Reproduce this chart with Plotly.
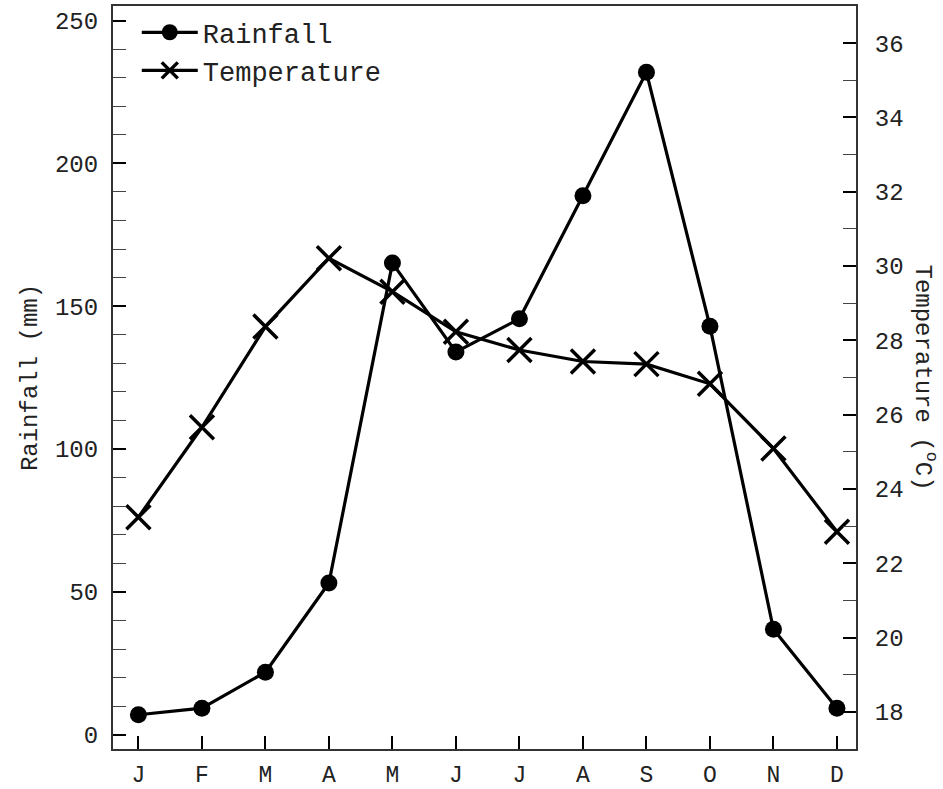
import plotly.graph_objects as go

# Monthly climate data
months = ["J", "F", "M", "A", "M", "J", "J", "A", "S", "O", "N", "D"]
rainfall_mm = [7.0, 9.3, 21.9, 53.1, 165.1, 134.0, 145.6, 188.7, 231.9, 143.0, 36.9, 9.3]
temperature_c = [23.24, 25.66, 28.37, 30.21, 29.31, 28.23, 27.74, 27.43, 27.36, 26.83, 25.09, 22.85]

x_idx = list(range(len(months)))
FONT = "Courier New, Liberation Mono, monospace"
TXT = "#222"

fig = go.Figure()

fig.add_trace(go.Scatter(
    x=x_idx, y=rainfall_mm, name="Rainfall", yaxis="y",
    mode="lines+markers",
    line=dict(color="black", width=3.2),
    marker=dict(symbol="circle", size=17, color="black"),
))

fig.add_trace(go.Scatter(
    x=x_idx, y=temperature_c, name="Temperature", yaxis="y2",
    mode="lines+markers",
    line=dict(color="black", width=3.2),
    marker=dict(symbol="x-thin-open", size=24, color="black",
                line=dict(color="black", width=3.5)),
))

fig.update_layout(
    width=943, height=789,
    margin=dict(l=113, r=87, t=6, b=40, pad=0),
    paper_bgcolor="white", plot_bgcolor="white",
    font=dict(family=FONT, size=24, color=TXT),
    showlegend=True,
    legend=dict(
        x=0.032, y=0.997, xanchor="left", yanchor="top",
        bgcolor="rgba(0,0,0,0)", borderwidth=0,
        font=dict(family=FONT, size=27, color=TXT),
        itemwidth=56, tracegroupgap=0,
    ),
    xaxis=dict(
        range=[-0.40, 11.30], automargin=False,
        tickmode="array", tickvals=x_idx, ticktext=months,
        showgrid=False, zeroline=False,
        showline=True, linecolor="#333", linewidth=2, mirror=True,
        ticks="inside", ticklen=13, tickwidth=2, tickcolor="black",
        ticklabelstandoff=3,
        tickfont=dict(family=FONT, size=23, color=TXT),
    ),
    yaxis=dict(
        range=[-5.0, 255.1], automargin=False,
        tickmode="linear", tick0=0, dtick=50,
        showgrid=False, zeroline=False,
        showline=True, linecolor="#333", linewidth=2,
        ticks="inside", ticklen=13, tickwidth=2, tickcolor="black",
        minor=dict(dtick=10, ticks="inside", ticklen=13, tickwidth=1,
                   tickcolor="#444", showgrid=False),
        ticklabelstandoff=8,
        tickfont=dict(family=FONT, size=24, color=TXT),
        title=dict(text="Rainfall (mm)", standoff=11,
                   font=dict(family=FONT, size=24, color=TXT)),
    ),
    yaxis2=dict(
        range=[17.0, 37.0], automargin=False,
        overlaying="y", side="right", anchor="x",
        tickmode="linear", tick0=18, dtick=2,
        showgrid=False, zeroline=False,
        showline=True, linecolor="#333", linewidth=2,
        ticks="inside", ticklen=13, tickwidth=2, tickcolor="black",
        minor=dict(dtick=1, ticks="inside", ticklen=13, tickwidth=1,
                   tickcolor="#444", showgrid=False),
        ticklabelstandoff=12,
        tickfont=dict(family=FONT, size=24, color=TXT),
    ),
    annotations=[dict(
        text="Temperature (<sup>o</sup>C)",
        xref="paper", yref="paper", x=1, y=0.5,
        xanchor="center", yanchor="middle", xshift=69,
        textangle=90, showarrow=False,
        font=dict(family=FONT, size=24, color=TXT),
    )],
)

fig.write_html("out.html")
